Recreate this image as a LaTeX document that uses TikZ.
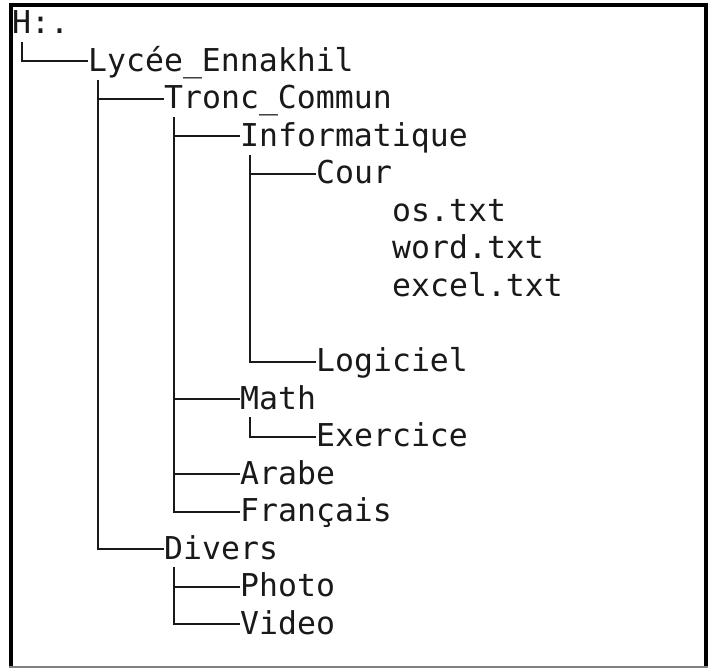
\documentclass[tikz,border=0pt]{standalone}
\usepackage{fontspec}
\newfontfamily\treefont{DejaVu Sans Mono}
\usetikzlibrary{positioning}

\begin{document}
\begin{tikzpicture}[x=1pt, y=1pt,
  entry/.style={anchor=west, inner sep=0pt, text height=28pt, text depth=8pt, text=black!90,
    font=\treefont\fontsize{31.5}{37.5}\selectfont},
  branch/.style={line width=2pt, black!90}]
  \useasboundingbox (0,0) rectangle (712,-668);
  % frame
  \draw[line width=3.5pt] (9,-5) -- (708,-5);
  \draw[line width=4pt] (11.3,-3) -- (11.3,-666);
  \draw[line width=4pt] (706,-3) -- (706,-666);
  \draw[gray, line width=2.5pt] (9,-666.8) -- (708,-666.8);
  % folders
  \node[entry] (root) at (12,-24) {H:.};
  \node[entry] (lycee) at (88,-61.5) {Lycée\_Ennakhil};
  \node[entry] (tronc) at (164,-99) {Tronc\_Commun};
  \node[entry] (info) at (240,-136.5) {Informatique};
  \node[entry] (cour) at (316,-174) {Cour};
  \node[entry] (os) at (392,-211.5) {os.txt};
  \node[entry] (word) at (392,-249) {word.txt};
  \node[entry] (excel) at (392,-286.5) {excel.txt};
  \node[entry] (logiciel) at (316,-361.5) {Logiciel};
  \node[entry] (math) at (240,-399) {Math};
  \node[entry] (exercice) at (316,-436.5) {Exercice};
  \node[entry] (arabe) at (240,-474) {Arabe};
  \node[entry] (francais) at (240,-511.5) {Français};
  \node[entry] (divers) at (164,-549) {Divers};
  \node[entry] (photo) at (240,-586.5) {Photo};
  \node[entry] (video) at (240,-624) {Video};
  % branches
  \foreach \p/\c in {root/lycee, lycee/tronc, lycee/divers, tronc/info, tronc/math,
      tronc/arabe, tronc/francais, info/cour, info/logiciel, math/exercice,
      divers/photo, divers/video}
    \draw[branch] ([xshift=9.5pt]\p.south west) |- (\c.west);
\end{tikzpicture}
\end{document}
